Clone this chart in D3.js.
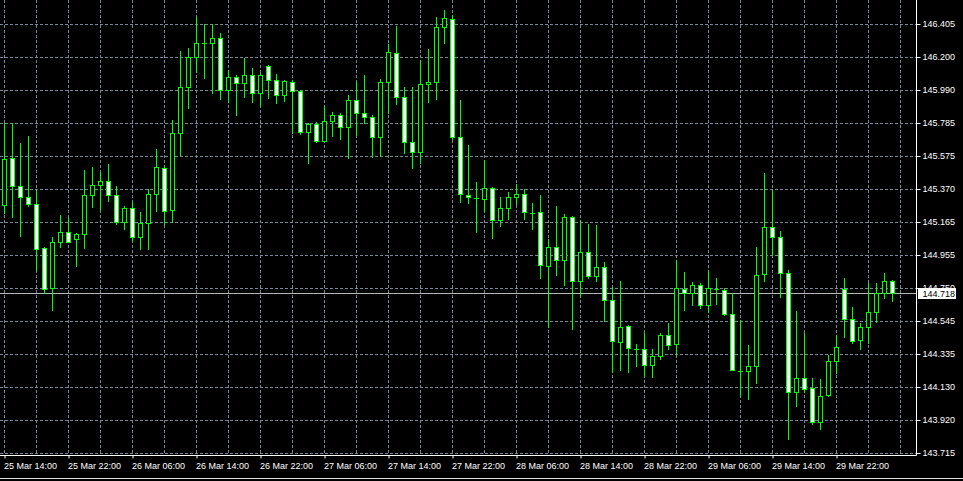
<!DOCTYPE html>
<html>
<head>
<meta charset="utf-8">
<script src="https://cdn.jsdelivr.net/npm/d3@7"></script>
<style>
  html, body { margin: 0; padding: 0; background: #000; overflow: hidden; }
  svg { display: block; }
  text { font-family: "Liberation Sans", Arial, sans-serif; font-size: 9px; }
</style>
</head>
<body>
<svg id="chart" width="963" height="481"></svg>
<script>
// ---- data (USDJPY-like H1 bars) ----
const opens = [145.272,145.566,145.391,145.322,145.278,145.002,144.751,145.040,145.102,145.058,
145.090,145.334,145.397,145.422,145.334,145.165,145.253,145.071,145.159,145.341,
145.504,145.240,145.723,146.012,146.200,146.287,146.285,146.319,145.993,146.074,
146.037,146.087,145.974,146.143,146.055,145.961,146.043,145.986,145.729,145.780,
145.673,145.798,145.836,145.761,145.930,145.848,145.823,145.698,146.043,146.225,
145.949,145.667,145.604,146.030,146.043,146.388,146.438,145.698,145.334,145.316,
145.309,145.378,145.178,145.253,145.322,145.341,145.221,145.228,144.889,145.008,
144.927,145.196,144.795,144.977,144.826,144.883,144.676,144.413,144.513,144.369,
144.369,144.268,144.325,144.457,144.400,144.745,144.720,144.770,144.645,144.745,
144.739,144.588,144.231,144.231,144.262,144.839,145.134,145.071,144.845,144.099,
144.187,144.125,143.911,144.080,144.294,144.745,144.557,144.425,144.507,144.601,
144.720,144.795];
const highs = [145.786,145.786,145.660,145.704,145.366,145.005,145.071,145.209,145.190,145.093,
145.491,145.510,145.479,145.529,145.391,145.265,145.290,145.228,145.372,145.623,
145.516,145.805,146.237,146.256,146.450,146.407,146.407,146.350,146.118,146.087,
146.193,146.131,146.099,146.149,146.093,146.052,146.055,145.993,145.782,145.792,
145.892,145.855,145.848,145.961,146.043,146.087,145.836,146.062,146.281,146.394,
146.012,146.012,146.181,146.250,146.450,146.494,146.463,145.930,145.648,145.416,
145.554,145.385,145.322,145.353,145.403,145.372,145.284,145.334,145.058,145.265,
145.215,145.199,145.178,145.153,145.146,144.914,144.758,144.795,144.516,144.400,
144.469,144.369,144.469,144.532,144.927,144.852,144.789,144.783,144.858,144.814,
144.751,144.720,144.550,144.394,145.008,145.472,145.366,145.109,144.864,144.607,
144.469,144.187,144.181,144.332,144.457,144.814,144.632,144.532,144.783,144.783,
144.845,144.801];
const lows = [145.221,145.196,145.077,145.265,144.864,144.720,144.613,145.008,145.038,144.889,
145.002,145.259,145.240,145.297,145.153,145.121,145.046,144.996,144.996,145.234,
145.153,145.165,145.585,145.880,146.106,146.068,145.974,145.936,145.917,145.836,
145.949,145.917,145.892,145.943,145.911,145.924,145.723,145.717,145.535,145.667,
145.670,145.704,145.685,145.566,145.711,145.786,145.573,145.579,145.848,145.905,
145.598,145.504,145.535,145.917,145.936,146.287,145.685,145.290,145.284,145.102,
145.234,145.065,145.140,145.184,145.278,145.184,145.121,144.814,144.507,144.833,
144.770,144.494,144.701,144.814,144.795,144.544,144.225,144.237,144.225,144.262,
144.199,144.193,144.306,144.369,144.338,144.613,144.645,144.626,144.600,144.651,
144.582,144.233,144.074,144.055,144.156,144.795,144.958,144.695,143.804,144.011,
144.099,143.899,143.867,144.074,144.218,144.444,144.407,144.369,144.407,144.538,
144.689,144.670];
const closes = [145.560,145.391,145.322,145.278,144.996,144.745,145.040,145.102,145.040,145.090,
145.334,145.397,145.422,145.334,145.165,145.253,145.071,145.159,145.341,145.510,
145.234,145.723,146.012,146.200,146.287,146.285,146.319,145.993,146.074,146.037,
146.087,145.974,146.087,146.055,145.961,146.049,145.986,145.729,145.780,145.673,
145.798,145.836,145.761,145.930,145.848,145.823,145.698,146.043,146.231,145.949,
145.667,145.604,146.030,146.043,146.388,146.444,145.698,145.341,145.322,145.316,
145.378,145.178,145.253,145.322,145.341,145.228,145.221,144.895,145.008,144.927,
145.196,144.795,144.977,144.826,144.883,144.676,144.419,144.507,144.375,144.369,
144.268,144.325,144.457,144.394,144.751,144.720,144.770,144.645,144.751,144.745,
144.588,144.237,144.231,144.262,144.833,145.134,145.071,144.845,144.099,144.187,
144.118,143.911,144.074,144.294,144.382,144.557,144.419,144.507,144.601,144.720,
144.795,144.718];

const priceTicks = [146.405,146.200,145.990,145.785,145.575,145.370,145.165,144.955,144.750,144.545,144.335,144.130,143.920,143.715];
const timeLabels = ["25 Mar 14:00","25 Mar 22:00","26 Mar 06:00","26 Mar 14:00","26 Mar 22:00","27 Mar 06:00","27 Mar 14:00","27 Mar 22:00","28 Mar 06:00","28 Mar 14:00","28 Mar 22:00","29 Mar 06:00","29 Mar 14:00","29 Mar 22:00"];
const labelBars = [0,8,16,24,32,40,48,56,64,72,80,88,96,104];
const gridBars = d3.range(0, 113, 4);
const currentPrice = 144.718;

// ---- layout ----
const plotRight = 916, plotBottom = 455;
const svg = d3.select("#chart");
svg.append("rect").attr("width", 963).attr("height", 481).attr("fill", "#000");

const x = d3.scaleLinear().domain([0, 111]).range([4, 892]);
const y = d3.scaleLinear().domain([143.715, 146.405]).range([453.5, 24.5]);
const yy = v => Math.round(y(v) - 0.5) + 0.5;
const gridColor = "#778899";

// grid
const grid = svg.append("g");
grid.selectAll("line.v").data(gridBars).join("line")
  .attr("x1", d => x(d) + 0.5).attr("x2", d => x(d) + 0.5)
  .attr("y1", 0).attr("y2", plotBottom)
  .attr("stroke", gridColor).attr("stroke-width", 1).attr("stroke-dasharray", "3,2");
grid.selectAll("line.h").data(priceTicks).join("line")
  .attr("x1", 0).attr("x2", plotRight)
  .attr("y1", d => yy(d)).attr("y2", d => yy(d))
  .attr("stroke", gridColor).attr("stroke-width", 1).attr("stroke-dasharray", "3,2");

// current price line
svg.append("line").attr("x1", 0).attr("x2", plotRight)
  .attr("y1", yy(currentPrice)).attr("y2", yy(currentPrice))
  .attr("stroke", "#b8b8b8").attr("stroke-width", 1);

// candles
const idx = d3.range(opens.length);
const lime = "#00ff00";
const cg = svg.append("g");
cg.selectAll("line.wick").data(idx).join("line")
  .attr("x1", i => x(i) + 0.5).attr("x2", i => x(i) + 0.5)
  .attr("y1", i => yy(highs[i]) - 0.5).attr("y2", i => yy(lows[i]) + 0.5)
  .attr("stroke", lime).attr("stroke-width", 1);
idx.forEach(i => {
  const top = yy(Math.max(opens[i], closes[i]));
  const bot = yy(Math.min(opens[i], closes[i]));
  const bull = closes[i] > opens[i];
  if (bot - top < 1) {
    cg.append("line").attr("x1", x(i) - 2).attr("x2", x(i) + 3)
      .attr("y1", top).attr("y2", top).attr("stroke", lime).attr("stroke-width", 1);
  } else {
    cg.append("rect").attr("x", x(i) - 1.5).attr("y", top)
      .attr("width", 4).attr("height", bot - top)
      .attr("fill", bull ? "#000" : "#fff").attr("stroke", lime).attr("stroke-width", 1);
  }
});

// axes
svg.append("rect").attr("x", plotRight + 1).attr("y", 0).attr("width", 963 - plotRight - 1).attr("height", 481).attr("fill", "#000");
svg.append("rect").attr("x", 0).attr("y", plotBottom + 1).attr("width", 963).attr("height", 30).attr("fill", "#000");
svg.append("line").attr("x1", plotRight + 0.5).attr("x2", plotRight + 0.5).attr("y1", 0).attr("y2", plotBottom + 0.5)
  .attr("stroke", "#fff");
svg.append("line").attr("x1", 0).attr("x2", plotRight + 0.5).attr("y1", plotBottom + 0.5).attr("y2", plotBottom + 0.5)
  .attr("stroke", "#fff");

const yAxis = d3.axisRight(y).tickValues(priceTicks).tickSize(4).tickPadding(2).tickFormat(d3.format(".3f"));
const ya = svg.append("g").attr("transform", `translate(${plotRight + 0.5},0)`).call(yAxis);
ya.select(".domain").remove();
ya.selectAll(".tick").attr("transform", d => `translate(0,${yy(d)})`);
ya.selectAll(".tick line").attr("stroke", "#fff");
ya.selectAll(".tick text").attr("fill", "#fff").attr("font-family", "Liberation Sans, Arial, sans-serif").attr("font-size", 9);

const xAxis = d3.axisBottom(x).tickValues(labelBars).tickSize(3).tickPadding(4)
  .tickFormat((d, k) => timeLabels[k]);
const xa = svg.append("g").attr("transform", `translate(0.5,${plotBottom + 0.5})`).call(xAxis);
xa.select(".domain").remove();
xa.selectAll(".tick line").attr("stroke", "#fff");
xa.selectAll(".tick text").attr("fill", "#fff").attr("text-anchor", "start").attr("dx", -1)
  .attr("font-family", "Liberation Sans, Arial, sans-serif").attr("font-size", 9);

// current price label
const cpY = yy(currentPrice);
svg.append("rect").attr("x", 918).attr("y", cpY - 5.5).attr("width", 38).attr("height", 11).attr("fill", "#fff");
svg.append("text").attr("x", 922.5).attr("y", cpY).attr("dy", "0.35em").attr("fill", "#000").text(d3.format(".3f")(currentPrice));

// window frame
svg.append("line").attr("x1", 0).attr("x2", 963).attr("y1", 478.5).attr("y2", 478.5).attr("stroke", "#e0e0e0");
</script>
</body>
</html>
